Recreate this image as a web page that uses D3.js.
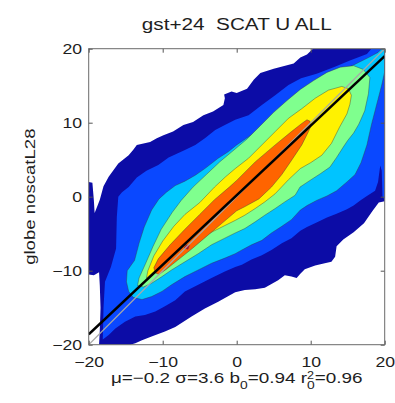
<!DOCTYPE html>
<html>
<head>
<meta charset="utf-8">
<script src="https://cdnjs.cloudflare.com/ajax/libs/d3/7.8.5/d3.min.js"></script>
<style>
    body { margin: 0; background: #fff; }
    text { font-family: "Liberation Sans", Arial, Helvetica, sans-serif; fill: #1e1e1e; }
</style>
</head>
<body>
<div id="chart"></div>
<script>

// tick values
var xTicks = [-20, -10, 0, 10, 20];
var yTicks = [-20, -10, 0, 10, 20];

// filled contour levels, outer to inner (x, y pairs)
var navyLevel = [
    [-18.6,-20],[-18.5,-18],[-18.4,-15],[-18.5,-12],[-18.6,-10.2],[-19.3,-10.6],[-20,-10.5],
    [-20,2.0],[-19.5,1.9],[-19.3,-0.5],[-19.2,-2.2],[-18.8,-1.2],[-18.5,-0.4],[-18,1.4],
    [-17.3,2.7],[-16,4.5],[-14.6,5.6],[-14,6.3],[-13.5,7],[-11.7,7.4],[-10.8,7.9],[-9.9,8.3],
    [-8.6,8.8],[-7.2,9.7],[-5.9,10.1],[-4.5,11],[-3.2,11.5],[-1.8,12.4],[-1.6,13.3],[-1.7,13.8],
    [-0.7,14.2],[0,14],[1.4,14.6],[2.3,15.8],[3.2,16.7],[5,17.3],[7.7,18],[8.6,18.8],[9.5,19.2],
    [10.3,20],[20,20],[20,-0.6],[19.2,-0.8],[18.3,-2.0],[17.2,-3.6],[15.8,-4.8],[14.4,-5.8],
    [13.5,-6.7],[13.3,-8.1],[12.8,-8.8],[11.9,-9],[10.6,-9.3],[9.2,-9.8],[8.6,-10.4],[8.1,-11],
    [7.4,-10.8],[6.5,-10.6],[5.6,-11.3],[4.7,-11.8],[3.8,-12.3],[2.5,-12.5],[1.1,-12.6],
    [-0.2,-12.9],[-2.5,-14.2],[-4.3,-15.1],[-6.1,-16.2],[-8.3,-17.6],[-9.7,-18.2],[-11.5,-18.9],
    [-12.8,-19.4],[-13.7,-19.8],[-14.4,-20]
];
var blueLevel = [
    [-18.1,-19.3],[-18.0,-15],[-17.8,-11.5],[-17,-9.5],[-16.3,-7],[-16.2,-2.7],[-16,0],
    [-15.5,0.6],[-14.6,1.3],[-13.5,2.6],[-12.2,3.5],[-10.6,4.3],[-9.2,5.3],[-8.1,5.8],[-7,6.3],
    [-5.6,7],[-4.3,7.9],[-2.9,9],[-1.6,9.7],[-0.2,10.4],[1.6,11],[3.4,12.4],[5.2,13.7],[7,15.1],
    [8.7,16],[10.8,16.6],[13.1,17.5],[15.3,18.4],[17.6,19.3],[18.2,20],[20,20],[20,-0.4],
    [19.7,0],[19.6,3.5],[19.4,4.2],[19.1,2],[18.7,0.8],[17.6,0.1],[16.7,-0.5],[15.8,-1.2],
    [14.9,-1.7],[13.5,-2.3],[12.2,-2.8],[10.8,-3.5],[9.5,-4.1],[8.6,-4.6],[7.4,-5.6],[6.1,-6.3],
    [4.7,-7.2],[3.4,-7.9],[2,-8.5],[0.7,-9.2],[-0.2,-9.5],[-1.6,-10.1],[-3.4,-11],[-5.2,-11.9],
    [-7,-12.8],[-8.3,-14],[-9.7,-14.8],[-11,-15.5],[-12.4,-16],[-13.7,-16.2],[-15.1,-16.9],
    [-16.4,-17.8],[-17.3,-18.7]
];
var cyanLevel = [
    [-14.6,-12.8],[-14.9,-11.5],[-14.8,-10],[-13.8,-8.6],[-13.2,-6.3],[-12.5,-4.1],[-11.5,-1.8],
    [-10.5,-0.3],[-9.5,0.6],[-8.3,1.5],[-7,2.1],[-5.6,2.9],[-4.3,3.8],[-2.5,5.2],[-1.1,6.1],
    [0,7],[1.6,8.1],[3.4,9.2],[5.2,10.8],[7,12.2],[8.8,13.3],[10.6,14.6],[12.4,15.9],[14.2,17],
    [16,17.9],[17.8,18.8],[19.1,19.5],[19.6,20],[20,20],[20,16.9],[19.6,15.1],[18.9,12.4],
    [18.2,9.7],[17.6,7],[16.8,4.6],[16,3],[14.9,2],[13.5,0.8],[12.2,0.1],[10.8,-0.5],[9.5,-1.2],
    [8.6,-1.8],[7.4,-3.1],[6.1,-4],[4.7,-4.9],[3.4,-5.9],[2,-6.5],[0.7,-7.2],[-0.2,-7.7],
    [-1.6,-8.3],[-3.4,-9],[-5.2,-9.9],[-7,-10.8],[-8.8,-11.9],[-10.1,-12.8],[-11.5,-13.5],
    [-12.8,-13.9],[-14,-13.6]
];
var greenLevel = [
    [-13.4,-12],[-13.2,-11],[-12.3,-9],[-11.3,-6.7],[-10.2,-4.4],[-8.7,-2.1],[-7.5,-0.5],
    [-5.9,1.3],[-4.1,3],[-2.3,4.7],[-0.5,6.2],[1.4,7.8],[3.2,9.6],[5,11.4],[6.8,13],[8.6,14.5],
    [10.4,15.7],[12.2,16.8],[14,17.5],[15.8,17.7],[17.1,17.2],[18,16.1],[17.8,13.9],[17.3,11.6],
    [16.5,9.8],[15.8,8.6],[15,7.6],[14.4,6.7],[13.5,5.3],[12.6,4],[11.3,3.1],[9.9,2.2],[8.55,1.3],
    [7.9,0.2],[6.5,-0.7],[5.2,-1.6],[3.8,-2.5],[2.5,-3.4],[1.1,-4.3],[-0.2,-4.9],[-1.6,-5.6],
    [-3.4,-6.5],[-5.2,-7.7],[-7,-8.8],[-8.8,-9.9],[-10.1,-10.8],[-11.5,-11.7],[-12.6,-12.2]
];
var yellowLevel = [
    [-12.2,-11],[-12,-10],[-11.2,-8],[-10,-6],[-8.5,-4],[-7,-2.4],[-5,-0.8],[-3,1.3],[-1.5,2.7],
    [-0.2,3.8],[1.6,5.2],[3.4,7],[5.2,8.8],[7,10.6],[8.8,11.9],[10.6,13.3],[12.4,14.4],[14.2,14.9],
    [15.1,14.6],[15.5,13.7],[15.3,12.5],[14.9,11.2],[13.9,9.4],[12.8,7.2],[11.5,5.6],[10,4.6],
    [8.6,3.8],[7,2.3],[5.2,0.4],[3.8,-0.7],[2.5,-1.6],[1.1,-2.5],[-0.2,-3.2],[-1.6,-3.9],
    [-3.4,-4.8],[-5.2,-5.8],[-7,-6.9],[-8.8,-8.2],[-10.1,-9.3],[-11.5,-10.4]
];
var orangeLevel = [
    [-11,-10.3],[-11.2,-9.6],[-10.6,-8.4],[-9,-6.5],[-7,-4.4],[-5,-2.4],[-3,-0.4],[-1,1.3],
    [0,2.2],[2.5,4.7],[5.2,7],[7.4,8.8],[8.8,9.9],[9.5,10.4],[9.9,10.2],[10,9.5],[9.7,8.8],
    [8.8,7],[7.4,4.9],[6.1,3],[4.7,1.3],[3,-0.3],[1,-1.4],[0,-1.9],[-2,-3.6],[-4,-5.3],[-6,-7],
    [-8,-8.6],[-9.5,-9.8],[-10.5,-10.5]
];
var redLevel = [
    [-7.1,-6.9],[-6.8,-6.5],[-6.4,-6.6],[-6.6,-7.1]
];

var levels = [navyLevel, blueLevel, cyanLevel, greenLevel, yellowLevel, orangeLevel, redLevel];
var levelColours = ["#0c0ca6", "#0a48ff", "#00c4ff", "#7fff8e", "#fff200", "#ff6400", "#cc0030"];

// regression fit and 1:1 line
var fitSlope = 0.94;
var fitOffset = 0.2;
var identityLine = [[-20, -20], [20, 20]];

var titleText = "gst+24  SCAT U ALL";
var yLabelText = "globe noscatL28";
var statParts = ["\u03bc=\u22120.2 \u03c3=3.6 b", "0", "=0.94 r", "2", "0", "=0.96"];


// constructor function
ContourPlot = function(_parentElement, _svgWidth, _svgHeight) {
    this.parentElement = _parentElement;
    this.svgWidth = _svgWidth;
    this.svgHeight = _svgHeight;

    this.initVis();
}

ContourPlot.prototype.initVis = function() {
    var vis = this;

    vis.margin = {top: 48.7, right: 10.3, bottom: 58.3, left: 88.7};
    vis.width = vis.svgWidth - vis.margin.left - vis.margin.right;
    vis.height = vis.svgHeight - vis.margin.top - vis.margin.bottom;

    // the original text is drawn a bit wide
    vis.stretch = 1.26;

    vis.svg = d3.select(vis.parentElement).append("svg")
        .attr("width", vis.svgWidth).attr("height", vis.svgHeight);

    vis.g = vis.svg.append("g")
        .attr("transform", "translate(" + vis.margin.left + " " + vis.margin.top + ")");

    vis.x = d3.scaleLinear().domain([-20, 20]).range([0, vis.width]);
    vis.y = d3.scaleLinear().domain([-20, 20]).range([vis.height, 0]);

    vis.g.append("clipPath").attr("id", "plotClip")
        .append("rect").attr("width", vis.width).attr("height", vis.height);

    vis.updateVis();
}

ContourPlot.prototype.updateVis = function() {
    var vis = this;

    var area = vis.g.append("g").attr("clip-path", "url(#plotClip)");

    var shape = d3.line()
        .x(function(d) { return vis.x(d[0]); })
        .y(function(d) { return vis.y(d[1]); })
        .curve(d3.curveLinearClosed);

    var segment = d3.line()
        .x(function(d) { return vis.x(d[0]); })
        .y(function(d) { return vis.y(d[1]); });

    // filled contours
    area.selectAll("path.level")
        .data(levels)
        .enter().append("path")
            .attr("class", "level")
            .attr("d", shape)
            .attr("fill", function(d, i) { return levelColours[i]; })
            .attr("stroke", "#3a3a3a")
            .attr("stroke-opacity", function(d, i) { return i < 2 ? 0 : 0.6; })
            .attr("stroke-width", 0.7);

    // 1:1 line
    area.append("path")
        .attr("d", segment(identityLine))
        .attr("fill", "none")
        .attr("stroke", "#a8a8a8")
        .attr("stroke-width", 1.3);

    // fit line
    var fit = vis.x.domain().map(function(v) { return [v, fitSlope * v + fitOffset]; });
    area.append("path")
        .attr("d", segment(fit))
        .attr("fill", "none")
        .attr("stroke", "#000")
        .attr("stroke-width", 2.6);

    // axes (ticks point inward like matlab)
    var fmt = d3.format("d");
    vis.g.append("g")
        .attr("transform", "translate(0 " + vis.height + ")")
        .call(d3.axisBottom(vis.x).tickValues(xTicks).tickSize(-4).tickPadding(12.3).tickFormat(fmt));
    vis.g.append("g")
        .call(d3.axisLeft(vis.y).tickValues(yTicks).tickSize(-4).tickPadding(5.3).tickFormat(fmt));
    vis.g.append("g")
        .call(d3.axisTop(vis.x).tickValues(xTicks).tickSize(-4).tickFormat(""));
    vis.g.append("g")
        .attr("transform", "translate(" + vis.width + " 0)")
        .call(d3.axisRight(vis.y).tickValues(yTicks).tickSize(-4).tickFormat(""));

    vis.g.selectAll(".domain").remove();
    vis.g.selectAll(".tick line").attr("stroke", "#555");
    vis.g.selectAll(".tick text")
        .attr("font-size", "14px")
        .attr("font-family", "Liberation Sans, Arial, sans-serif")
        .attr("fill", "#1e1e1e")
        .attr("transform", "scale(" + vis.stretch + " 1)");

    // frame
    vis.g.append("rect")
        .attr("width", vis.width).attr("height", vis.height)
        .attr("fill", "none").attr("stroke", "#6a6a6a").attr("stroke-width", 1);

    // title
    vis.g.append("g")
        .attr("transform", "translate(" + vis.width / 2 + " " + (-18.7) + ") scale(1.22 1)")
        .append("text")
            .attr("text-anchor", "middle")
            .attr("font-size", "17px")
            .style("white-space", "pre")
            .text(titleText);

    // y label
    vis.g.append("g")
        .attr("transform", "translate(" + (-53.5) + " " + vis.height / 2 + ") rotate(-90) scale(1.24 1)")
        .append("text")
            .attr("text-anchor", "middle")
            .attr("font-size", "15px")
            .text(yLabelText);

    // stats line with sub/superscripts
    var stat = vis.g.append("g")
        .attr("transform", "translate(" + vis.width / 2 + " " + (vis.height + 38.5) + ") scale(" + vis.stretch + " 1)")
        .append("text")
            .attr("text-anchor", "middle")
            .attr("font-size", "15px");
    stat.append("tspan").text(statParts[0]);
    stat.append("tspan").attr("font-size", "11px").attr("dy", 6).text(statParts[1]);
    stat.append("tspan").attr("dy", -6).text(statParts[2]);
    stat.append("tspan").attr("font-size", "10px").attr("dy", -4).text(statParts[3]);
    stat.append("tspan").attr("font-size", "11px").attr("dx", -5.6).attr("dy", 10).text(statParts[4]);
    stat.append("tspan").attr("dy", -6).text(statParts[5]);
}

var plot = new ContourPlot("#chart", 395, 403);

</script>
</body>
</html>
